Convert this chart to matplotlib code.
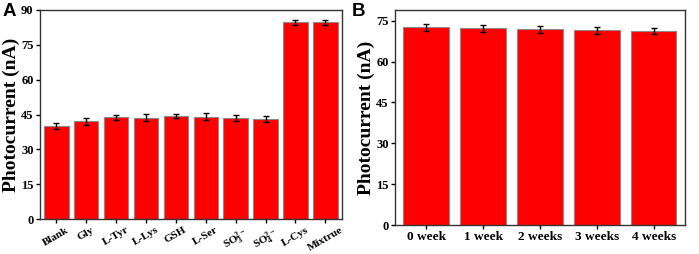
import numpy as np
import matplotlib
matplotlib.use('Agg')
import matplotlib.pyplot as plt

plt.rcParams['font.family'] = 'Liberation Serif'
plt.rcParams['font.weight'] = 'bold'
plt.rcParams['mathtext.fontset'] = 'custom'
plt.rcParams['mathtext.rm'] = 'Liberation Serif:bold'
plt.rcParams['mathtext.it'] = 'Liberation Serif:bold'
plt.rcParams['mathtext.bf'] = 'Liberation Serif:bold'

# Panel A : selectivity
labels_a = ['Blank', 'Gly', 'L-Tyr', 'L-Lys', 'GSH', 'L-Ser',
            r'SO$_3^{2-}$', r'SO$_4^{2-}$', 'L-Cys', 'Mixtrue']
values_a = [40.0, 42.2, 43.8, 43.6, 44.4, 44.1, 43.5, 43.1, 84.7, 84.7]
errors_a = [1.2, 1.5, 1.0, 1.5, 1.0, 1.6, 1.4, 1.4, 1.0, 1.0]

# Panel B : stability
labels_b = ['0 week', '1 week', '2 weeks', '3 weeks', '4 weeks']
values_b = [72.6, 72.2, 71.9, 71.5, 71.2]
errors_b = [1.2, 1.2, 1.2, 1.3, 1.2]

fig = plt.figure(figsize=(6.99, 2.54), dpi=100)
axA = fig.add_axes([0.057, 0.137, 0.432, 0.824])
axB = fig.add_axes([0.565, 0.114, 0.415, 0.847])

bar_kw = dict(color='#ff0000', edgecolor='#8a8a8a', linewidth=0.8,
              error_kw=dict(elinewidth=1.0, capthick=1.0, ecolor='black'), capsize=2)

xa = np.arange(len(labels_a))
axA.bar(xa, values_a, width=0.82, yerr=errors_a, **bar_kw)
axA.set_xlim(-0.55, len(labels_a) - 0.45)
axA.set_ylim(0, 90)
axA.set_yticks(np.arange(0, 91, 15))
axA.set_xticks(xa)
axA.set_xticklabels(labels_a, rotation=30, ha='center', fontsize=8)
axA.set_ylabel('Photocurrent (nA)', fontsize=14, fontweight='bold', labelpad=1)

xb = np.arange(len(labels_b))
axB.bar(xb, values_b, width=0.8, yerr=errors_b, **bar_kw)
axB.set_xlim(-0.55, len(labels_b) - 0.45)
axB.set_ylim(0, 79)
axB.set_yticks(np.arange(0, 76, 15))
axB.set_xticks(xb)
axB.set_xticklabels(labels_b, fontsize=9.5)
axB.set_ylabel('Photocurrent (nA)', fontsize=14, fontweight='bold', labelpad=1)

for ax in (axA, axB):
    ax.tick_params(direction='out', length=3, width=1, pad=1.5)
    ax.tick_params(axis='y', labelsize=9)
    for s in ax.spines.values():
        s.set_linewidth(1.0)
        s.set_color('#333333')

fig.text(0.003, 0.99, 'A', fontsize=13.5, fontweight='bold', family='Liberation Sans', va='top')
fig.text(0.503, 0.99, 'B', fontsize=13.5, fontweight='bold', family='Liberation Sans', va='top')

fig.savefig('out.png', dpi=100)
